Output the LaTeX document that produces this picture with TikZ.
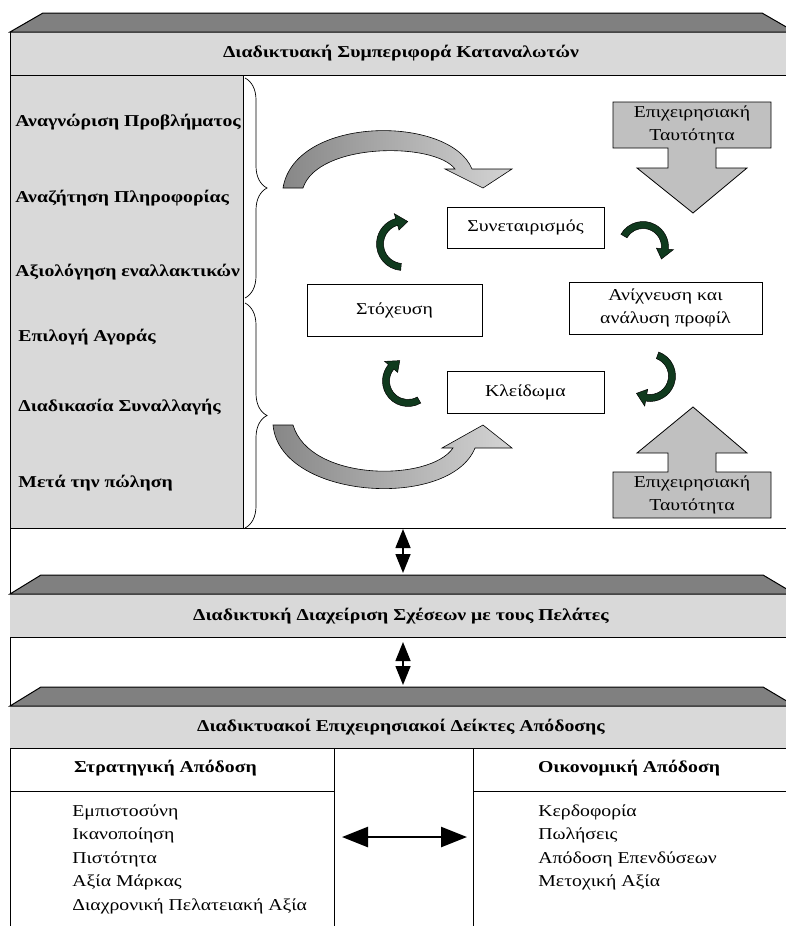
\documentclass[tikz,border=0pt]{standalone}
\usepackage{fontspec}
\setmainfont{Liberation Serif}[FakeStretch=1.19]
\usetikzlibrary{arrows.meta,calc,decorations.pathreplacing}
\definecolor{bandgray}{RGB}{217,217,217}
\definecolor{topgray}{RGB}{128,128,128}
\definecolor{blockgray}{RGB}{192,192,192}
\definecolor{darkg}{RGB}{16,58,30}
\definecolor{arrdark}{RGB}{135,135,135}
\definecolor{arrlight}{RGB}{212,212,212}
\newcommand{\grarc}[5]{%
  \filldraw[grarrow] ($(#1,#2)+({#4}:{#3pt+3.5pt})$) arc[start angle=#4, end angle=#5, radius=#3pt+3.5pt]
   -- ($(#1,#2)+({#5}:{#3pt+8.5pt})$) -- ($(#1,#2)+({#5-28}:{#3pt})$)
   -- ($(#1,#2)+({#5}:{#3pt-8.5pt})$) -- ($(#1,#2)+({#5}:{#3pt-3.5pt})$)
   arc[start angle=#5, end angle=#4, radius=#3pt-3.5pt] -- cycle;}
\begin{document}
\begin{tikzpicture}[x=1pt,y=1pt,line width=0.8pt,
  trap/.style={fill=topgray,draw=black,line width=1pt},
  bandtext/.style={font=\bfseries\fontsize{16.6}{20}\selectfont},
  lbl/.style={anchor=west,inner sep=0pt,font=\bfseries\fontsize{16.6}{20}\selectfont},
  cbox/.style={draw=black,fill=white,inner sep=0pt,line width=0.7pt,font=\fontsize{16.6}{23}\selectfont,align=center},
  blocktext/.style={font=\fontsize{16.6}{23}\selectfont,align=center},
  item/.style={anchor=base west,inner sep=0pt,font=\fontsize{16.6}{20}\selectfont},
  head/.style={font=\bfseries\fontsize{16.6}{20}\selectfont},
  grarrow/.style={fill=darkg,draw=black,line width=0.5pt},
  bigarrow/.style={left color=arrdark,right color=arrlight,draw=black,line width=0.6pt},
  blockarrow/.style={fill=blockgray,draw=black,line width=0.8pt},
  vdbl/.style={line width=1.5pt,{Triangle[length=19pt,width=15pt]}-{Triangle[length=19pt,width=15pt]}},
  hdbl/.style={line width=2.5pt,{Triangle[length=26pt,width=20pt]}-{Triangle[length=26pt,width=20pt]}},
  brc/.style={decorate,decoration={brace,amplitude=22pt},line width=0.7pt}]
\useasboundingbox (0,0) rectangle (785,-926);
% ---------- band 1
\fill[bandgray] (10,-32) rectangle (786,-75);
\draw[trap] (10,-32) -- (43,-13) -- (762,-13) -- (795,-32) -- cycle;
\draw (10,-75) -- (786,-75);
\node[bandtext] (t1) at (401,-53.5) {Διαδικτυακή Συμπεριφορά Καταναλωτών};
% left panel
\filldraw[fill=bandgray,draw=black,line width=0.7pt] (10,-75) rectangle (243,-528);
\node[lbl] (l1) at (15,-122) {Αναγνώριση Προβλήματος};
\node[lbl] (l2) at (15,-198) {Αναζήτηση Πληροφορίας};
\node[lbl] (l3) at (15,-272) {Αξιολόγηση εναλλακτικών};
\node[lbl] (l4) at (18,-337) {Επιλογή Αγοράς};
\node[lbl] (l5) at (18,-407) {Διαδικασία Συναλλαγής};
\node[lbl] (l6) at (18,-483) {Μετά την πώληση};
\draw[brc] (245,-78) -- (245,-298);
\draw[brc] (245,-303) -- (245,-528);
\draw (10,-528) -- (786,-528);
\draw (10,-32) -- (10,-926);
% big gray curved arrows
\shadedraw[bigarrow] (283,-188) .. controls (295,-115) and (450,-115) .. (472,-169)
  -- (512,-169) -- (483,-188) -- (445,-169) -- (455,-169)
  .. controls (435,-142) and (318,-142) .. (303,-188) -- cycle;
\shadedraw[bigarrow] (273,-425) .. controls (280,-500) and (450,-510) .. (475,-448)
  -- (512,-448) -- (483,-425) -- (442,-448) -- (453,-448)
  .. controls (430,-482) and (310,-482) .. (293,-425) -- cycle;
% block arrows
\draw[blockarrow] (613,-102) -- (771,-102) -- (771,-148) -- (716,-148) -- (716,-168) -- (747,-168)
  -- (693,-213) -- (637,-168) -- (668,-168) -- (668,-148) -- (613,-148) -- cycle;
\node[blocktext] (b1) at (692,-124.5) {Επιχειρησιακή\\Ταυτότητα};
\draw[blockarrow] (613,-518) -- (771,-518) -- (771,-472) -- (716,-472) -- (716,-453) -- (747,-453)
  -- (693,-407) -- (637,-453) -- (668,-453) -- (668,-472) -- (613,-472) -- cycle;
\node[blocktext] (b2) at (692,-495) {Επιχειρησιακή\\Ταυτότητα};
% cycle boxes
\node[cbox,minimum width=157pt,minimum height=41pt] (syn) at (525.5,-227.5) {Συνεταιρισμός};
\node[cbox,minimum width=175pt,minimum height=52pt] (sto) at (394.5,-310) {Στόχευση};
\node[cbox,minimum width=193pt,minimum height=52pt] (ani) at (665.5,-308) {Ανίχνευση και\\ανάλυση προφίλ};
\node[cbox,minimum width=157pt,minimum height=42pt] (kle) at (525.5,-392) {Κλείδωμα};
% green cycle arrows
\grarc{403}{-244}{23}{-95}{-254}
\grarc{643}{-247}{22}{150}{-5}
\grarc{650}{-376}{22}{70}{-100}
\grarc{408}{-381}{22}{-60}{-220}
% connectors between bands
\coordinate (v1a) at (403,-529);
\coordinate (v1b) at (403,-573);
\draw[vdbl] (v1a) -- (v1b);
% band 2
\fill[bandgray] (10,-594) rectangle (786,-637);
\draw[trap] (10,-594) -- (41,-575) -- (763,-575) -- (795,-594) -- cycle;
\draw (10,-637) -- (786,-637);
\node[bandtext] (t2) at (401,-616) {Διαδικτυκή Διαχείριση Σχέσεων με τους Πελάτες};
\coordinate (v2a) at (403,-642);
\coordinate (v2b) at (403,-685);
\draw[vdbl] (v2a) -- (v2b);
% band 3
\fill[bandgray] (10,-706) rectangle (786,-748);
\draw[trap] (10,-706) -- (41,-687) -- (763,-687) -- (795,-706) -- cycle;
\draw (10,-748) -- (786,-748);
\node[bandtext] (t3) at (401,-727.5) {Διαδικτυακοί Επιχειρησιακοί Δείκτες Απόδοσης};
% bottom table
\draw (334,-748) -- (334,-926);
\draw (473,-748) -- (473,-926);
\draw (10,-791) -- (334,-791);
\draw (473,-791) -- (786,-791);
\node[head] (h1) at (165.5,-768) {Στρατηγική Απόδοση};
\node[head] (h2) at (629,-768) {Οικονομική Απόδοση};
\node[item] (s1) at (72,-816) {Εμπιστοσύνη};
\node[item] (s2) at (72,-839.5) {Ικανοποίηση};
\node[item] (s3) at (72,-863) {Πιστότητα};
\node[item] (s4) at (72,-886.5) {Αξία Μάρκας};
\node[item] (s5) at (72,-910) {Διαχρονική Πελατειακή Αξία};
\node[item] (f1) at (538,-816) {Κερδοφορία};
\node[item] (f2) at (538,-839.5) {Πωλήσεις};
\node[item] (f3) at (538,-863) {Απόδοση Επενδύσεων};
\node[item] (f4) at (538,-886.5) {Μετοχική Αξία};
\coordinate (ha) at (342,-837);
\coordinate (hb) at (467,-837);
\draw[hdbl] (ha) -- (hb);
\end{tikzpicture}
\end{document}
